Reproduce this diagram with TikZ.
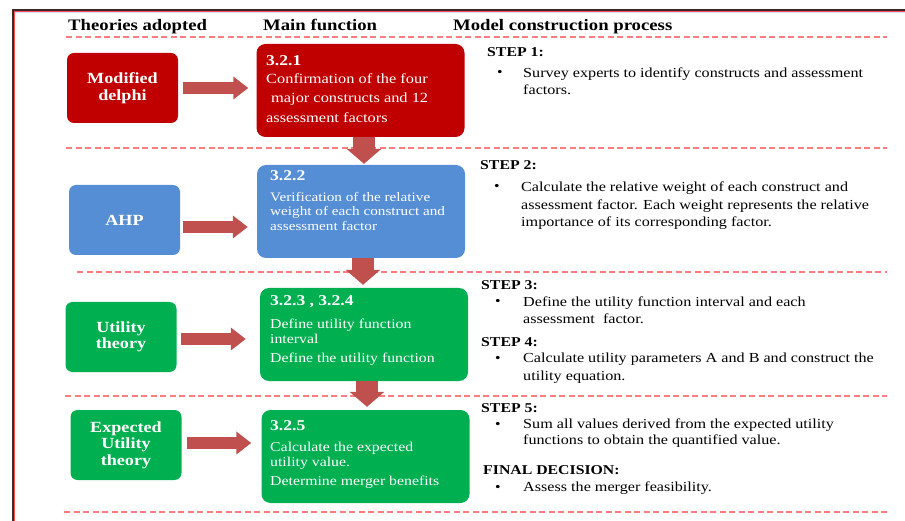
\documentclass[tikz,border=0pt]{standalone}
\usepackage{fontspec}
\setmainfont[FakeStretch=1.17]{Liberation Serif}
\usetikzlibrary{arrows.meta}

\definecolor{delphired}{RGB}{192,0,0}
\definecolor{ahpblue}{RGB}{85,142,213}
\definecolor{utilgreen}{RGB}{0,176,80}
\definecolor{arrowred}{RGB}{192,80,77}
\definecolor{dashpink}{RGB}{255,124,128}
\definecolor{framedark}{RGB}{60,40,40}

\begin{document}
\begin{tikzpicture}[x=1pt, y=-1pt,
  theory/.style={rounded corners=7pt, minimum width=111pt, minimum height=70pt, inner sep=0pt, text=white, align=center, font=\fontsize{15.5}{16.5}\selectfont\bfseries},
  func/.style={rounded corners=9pt, minimum width=208pt, minimum height=93pt, inner sep=0pt},
  functext/.style={anchor=north west, inner sep=0pt, text=white, align=left},
  colhead/.style={anchor=base west, inner sep=0pt, font=\fontsize{16}{16}\selectfont\bfseries},
  steplabel/.style={anchor=base west, inner sep=0pt, font=\fontsize{13.5}{14}\selectfont\bfseries},
  stepitem/.style={anchor=north west, inner sep=0pt, align=left, font=\fontsize{13.8}{17}\selectfont},
  itembullet/.style={anchor=base west, inner sep=0pt, font=\fontsize{13.5}{14}\selectfont},
  flatarrow/.style={arrowred, line width=12pt, -{Triangle[length=15pt, width=22pt]}},
  downarrow/.style={arrowred, line width=22pt, -{Triangle[length=15pt, width=34pt]}},
  rowsep/.style={dashpink, line width=1.1pt, dash pattern=on 6pt off 3.5pt}]
  \useasboundingbox (0,0) rectangle (905,521);

  % frame
  \draw [framedark, line width=1.5pt] (13,521) -- (13,10.2) -- (905,10.2);
  \draw [red!70, line width=0.6pt] (14.3,521) -- (14.3,11.5) -- (905,11.5);
  \draw [blue!15, line width=0.8pt] (14.8,12.4) -- (905,12.4);

  % column headings
  \node (h1) [colhead] at (68, 30.5) {Theories adopted};
  \node (h2) [colhead] at (263, 30.5) {Main function};
  \node (h3) [colhead] at (453, 30.5) {Model construction process};

  % separators
  \draw [rowsep] (66,37) -- (887,37);
  \draw [rowsep] (66,148) -- (887,148);
  \draw [rowsep] (77,272) -- (887,272);
  \draw [rowsep] (65,396) -- (887,396);
  \draw [rowsep] (64,512) -- (887,512);

  % theories
  \node (md) [theory, fill=delphired] at (122.5, 88) {Modified\\delphi};
  \node (ahp) [theory, fill=ahpblue] at (124.5, 220) {AHP};
  \node (ut) [theory, fill=utilgreen] at (121, 337) {Utility\\theory};
  \node (eut) [theory, fill=utilgreen] at (126, 445) {Expected\\Utility\\theory};

  % main functions
  \node (f1) [func, fill=delphired] at (360.5, 90.5) {};
  \node (f2) [func, fill=ahpblue] at (361, 211.5) {};
  \node (f3) [func, fill=utilgreen] at (364, 334.5) {};
  \node (f4) [func, fill=utilgreen] at (365.5, 456.5) {};

  \node (f1txt) [functext, font=\fontsize{14}{19.5}\selectfont] at (266, 55)
    {{\fontsize{15}{15}\selectfont\bfseries 3.2.1}\\[-1.5pt]
     Confirmation of the four\\
     \hspace*{5pt}major constructs and 12\\
     assessment factors};
  \node (f2txt) [functext, font=\fontsize{13}{14.5}\selectfont] at (270, 170)
    {{\fontsize{15}{15}\selectfont\bfseries 3.2.2}\\[6.5pt]
     Verification of the relative\\
     weight of each construct and\\
     assessment factor};
  \node (f3txt) [functext, font=\fontsize{13.5}{15}\selectfont] at (270, 295)
    {{\fontsize{15}{15}\selectfont\bfseries 3.2.3 , 3.2.4}\\[8pt]
     Define utility function\\
     interval\\[4pt]
     Define the utility function};
  \node (f4txt) [functext, font=\fontsize{13.5}{15}\selectfont] at (270, 420)
    {{\fontsize{15}{15}\selectfont\bfseries 3.2.5}\\[6pt]
     Calculate the expected\\
     utility value.\\[4pt]
     Determine merger benefits};

  % arrows
  \draw [flatarrow, shorten <=5pt, shorten >=8pt] (md.east) -- (md.east -| f1.west);
  \draw [flatarrow, shorten <=3pt, shorten >=9pt] ([yshift=-7pt]ahp.east) -- ([yshift=-7pt]ahp.east -| f2.west);
  \draw [flatarrow, shorten <=4.5pt, shorten >=14pt] ([yshift=-2pt]ut.east) -- ([yshift=-2pt]ut.east -| f3.west);
  \draw [flatarrow, shorten <=5.5pt, shorten >=10pt] ([yshift=2pt]eut.east) -- ([yshift=2pt]eut.east -| f4.west);
  \draw [downarrow, shorten >=1pt] ([xshift=3.5pt]f1.south) -- ([xshift=3pt]f2.north);
  \draw [downarrow, shorten >=3pt] ([xshift=2pt]f2.south) -- ([xshift=-1pt]f3.north);
  \draw [downarrow, shorten >=3pt] ([xshift=3pt]f3.south) -- ([xshift=1.5pt]f4.north);

  % steps
  \node (s1) [steplabel] at (487, 56.5) {STEP 1:};
  \node (b1) [itembullet] at (497, 77) {\textbullet};
  \node (i1) [stepitem] at (523, 67.7)
    {Survey experts to identify constructs and assessment\\factors.};

  \node (s2) [steplabel] at (480, 169.5) {STEP 2:};
  \node (b2) [itembullet] at (494, 191) {\textbullet};
  \node (i2) [stepitem, font=\fontsize{13.8}{17.5}\selectfont] at (521, 181.7)
    {Calculate the relative weight of each construct and\\
     assessment factor. Each weight represents the relative\\
     importance of its corresponding factor.};

  \node (s3) [steplabel] at (481, 289.5) {STEP 3:};
  \node (b3) [itembullet] at (495, 306) {\textbullet};
  \node (i3) [stepitem] at (523, 296.7)
    {Define the utility function interval and each\\
     assessment\ \ factor.};

  \node (s4) [steplabel] at (481, 346.5) {STEP 4:};
  \node (b4) [itembullet] at (495, 362) {\textbullet};
  \node (i4) [stepitem, font=\fontsize{13.8}{18}\selectfont] at (523, 352.7)
    {Calculate utility parameters A and B and construct the\\
     utility equation.};

  \node (s5) [steplabel] at (481, 412.5) {STEP 5:};
  \node (b5) [itembullet] at (495, 428) {\textbullet};
  \node (i5) [stepitem, font=\fontsize{13.8}{16}\selectfont] at (523, 418.7)
    {Sum all values derived from the expected utility\\
     functions to obtain the quantified value.};

  \node (fd) [steplabel] at (483, 474.5) {FINAL DECISION:};
  \node (b6) [itembullet] at (495, 491) {\textbullet};
  \node (i6) [stepitem] at (523, 481.7) {Assess the merger feasibility.};
\end{tikzpicture}
\end{document}
